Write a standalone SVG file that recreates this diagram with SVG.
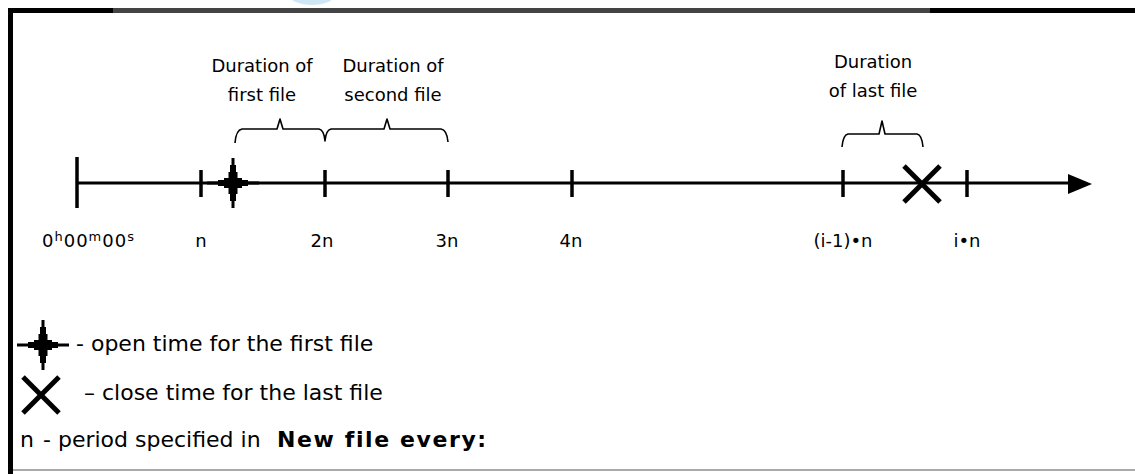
<svg xmlns="http://www.w3.org/2000/svg" width="1135" height="474" viewBox="0 0 1135 474">
<style>
  text { font-family: "DejaVu Sans", "Liberation Sans", sans-serif; fill: #000; }
  .lbl { font-size: 18px; text-anchor: middle; }
  .ax { font-size: 18px; text-anchor: middle; }
  .leg { font-size: 22px; }
  .bold { font-weight: bold; letter-spacing: 1.6px; }
  .tick { stroke: #000; stroke-width: 3.5; }
  .brace { fill: none; stroke: #000; stroke-width: 1.6; stroke-linejoin: round; }
  .xm { stroke: #000; stroke-width: 5; stroke-linecap: butt; }
</style>
<defs>
  <g id="star">
    <rect x="-1.5" y="-25" width="3" height="50"/>
    <rect x="-3" y="-18" width="6" height="36"/>
    <rect x="-4.5" y="-11" width="9" height="22"/>
    <rect x="-26" y="-1.5" width="52" height="3"/>
    <rect x="-15" y="-3" width="30" height="6"/>
    <rect x="-9" y="-5" width="18" height="10"/>
  </g>
  <g id="cross">
    <line class="xm" x1="-18" y1="-18" x2="18" y2="18"/>
    <line class="xm" x1="-18" y1="18" x2="18" y2="-18"/>
  </g>
</defs>
<rect width="1135" height="474" fill="#fff"/>
<ellipse cx="312" cy="-4" rx="22" ry="9" fill="#cfe6f4"/>
<g id="frame">
  <rect x="8" y="8" width="1127" height="5" fill="#444"/>
  <rect x="8" y="8" width="105" height="5" fill="#000"/>
  <rect x="930" y="8" width="205" height="5" fill="#000"/>
  <rect x="8" y="8" width="5" height="466" fill="#000"/>
  <rect x="13" y="469" width="1122" height="2" fill="#aaa"/>
</g>
<g id="connectors">
  <line x1="77" y1="183" x2="1072" y2="183" stroke="#000" stroke-width="3"/>
  <polygon points="1068,174 1092,184 1068,194" fill="#000"/>
  <line class="tick" x1="77" y1="157" x2="77" y2="208"/>
  <line class="tick" x1="201" y1="170" x2="201" y2="197"/>
  <line class="tick" x1="325" y1="170" x2="325" y2="197"/>
  <line class="tick" x1="448" y1="170" x2="448" y2="197"/>
  <line class="tick" x1="572" y1="170" x2="572" y2="197"/>
  <line class="tick" x1="843" y1="170" x2="843" y2="197"/>
  <line class="tick" x1="967" y1="170" x2="967" y2="197"/>
  <path class="brace" d="M235,143 Q236,130 242,129 L277,129 L280,119 L283,129 L319,129 Q324,130 325,141 Q326,130 331,129 L384,129 L387,119 L390,129 L441,129 Q447,130 448,142"/>
  <path class="brace" d="M842,147 Q843,135 848,134 L879,134 L882,121 L885,134 L917,134 Q922,135 923,147"/>
</g>
<g id="open-marker"><use href="#star" x="233" y="183"/></g>
<g id="close-marker"><use href="#cross" x="922" y="184"/></g>
<g id="labels-top">
  <text class="lbl" x="262" y="72">Duration of</text>
  <text class="lbl" x="262" y="101">first file</text>
  <text class="lbl" x="393" y="72">Duration of</text>
  <text class="lbl" x="393" y="101">second file</text>
  <text class="lbl" x="873" y="68">Duration</text>
  <text class="lbl" x="873" y="97">of last file</text>
</g>
<g id="labels-axis">
  <text x="42" y="247" style="font-size:18px;letter-spacing:1px">0<tspan font-size="13" dy="-6">h</tspan><tspan dy="6">00</tspan><tspan font-size="13" dy="-6">m</tspan><tspan dy="6">00</tspan><tspan font-size="13" dy="-6">s</tspan></text>
  <text class="ax" x="201" y="247">n</text>
  <text class="ax" x="322" y="247">2n</text>
  <text class="ax" x="447" y="247">3n</text>
  <text class="ax" x="571" y="247">4n</text>
  <text class="ax" x="843" y="247">(i-1)•n</text>
  <text class="ax" x="967" y="247">i•n</text>
</g>
<g id="legend">
  <use href="#star" x="43" y="345"/>
  <text class="leg" x="76" y="351">- open time for the first file</text>
  <use href="#cross" x="41" y="395"/>
  <text class="leg" x="84" y="400">– close time for the last file</text>
  <text class="leg" x="20" y="447">n</text>
  <text class="leg" x="43" y="447">- period specified in</text>
  <text class="leg bold" x="277" y="447">New file every:</text>
</g>
</svg>
